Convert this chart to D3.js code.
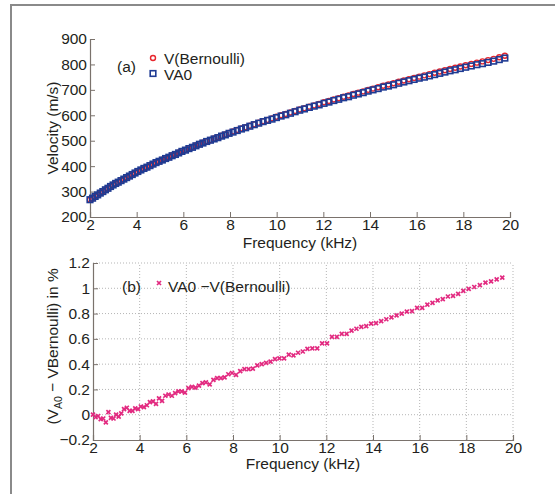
<!DOCTYPE html>
<html>
<head>
<meta charset="utf-8">
<script src="https://cdn.jsdelivr.net/npm/d3@7"></script>
<style>
  body { margin: 0; background: #fff; }
  svg { display: block; }
  text { font-family: "Liberation Sans", Arial, sans-serif; fill: #231f20; }
</style>
</head>
<body>
<div id="chart"></div>
<script>
// frequency of each measured point (kHz)
var freq = [2.00,2.11,2.22,2.33,2.44,2.55,2.66,2.77,2.88,2.99,3.10,3.21,3.33,3.45,3.57,3.69,3.81,3.93,
  4.05,4.18,4.31,4.44,4.57,4.70,4.83,4.96,5.10,5.24,5.38,5.52,5.66,5.80,5.94,
  6.09,6.24,6.39,6.54,6.69,6.84,7.00,7.16,7.32,7.48,7.64,7.80,7.96,
  8.13,8.31,8.49,8.67,8.85,9.04,9.23,9.42,9.61,9.80,9.99,
  10.19,10.39,10.59,10.79,10.99,11.19,11.40,11.61,11.82,
  12.03,12.24,12.45,12.66,12.87,13.08,13.29,13.50,13.71,13.92,
  14.13,14.35,14.57,14.79,15.01,15.23,15.45,15.67,15.89,
  16.11,16.33,16.55,16.77,16.99,17.21,17.43,17.65,17.87,
  18.10,18.34,18.58,18.82,19.06,19.30,19.54,19.78];

// V(Bernoulli) in m/s
var vBernoulli = [268,274,281,287,294,300,307,313,320,326,332,337,343,349,355,361,367,373,
  379,385,391,396,402,408,414,419,425,431,436,442,447,453,459,
  464,470,475,481,487,492,498,503,509,514,520,525,531,
  536,542,548,553,559,565,571,577,582,588,594,
  600,605,611,617,623,628,634,639,645,
  651,656,662,667,673,678,684,689,694,700,
  705,710,716,721,726,732,737,742,747,
  752,757,762,767,772,777,782,787,792,
  797,802,807,812,817,822,828,834];

// VA0 in m/s
var vA0 = [268,274,281,287,294,300,307,313,320,326,332,337,343,349,355,361,367,373,
  379,385,391,396,402,408,414,419,424,430,435,441,446,452,458,
  463,469,474,480,486,491,497,502,507,512,518,523,529,
  534,540,546,551,557,563,569,575,580,585,591,
  597,602,608,614,620,625,631,636,641,
  647,652,658,663,669,673,679,684,689,695,
  700,705,711,715,720,726,731,736,741,
  746,750,755,760,765,770,775,779,784,
  789,794,799,803,808,813,819,825];

// VA0 - V(Bernoulli) in % (last frequency has no point)
var diffPct = [0.00,-0.02,-0.01,-0.035,-0.03,-0.06,0.02,-0.025,-0.03,0.00,-0.015,0.01,0.045,0.055,0.03,0.03,0.05,0.045,
  0.065,0.06,0.075,0.10,0.105,0.085,0.13,0.11,0.15,0.16,0.15,0.17,0.185,0.185,0.175,
  0.21,0.22,0.215,0.23,0.25,0.255,0.24,0.275,0.29,0.29,0.295,0.32,0.33,
  0.315,0.345,0.36,0.36,0.365,0.39,0.40,0.41,0.42,0.44,0.445,
  0.445,0.475,0.47,0.49,0.50,0.52,0.525,0.525,0.565,
  0.565,0.615,0.615,0.64,0.64,0.665,0.68,0.695,0.70,0.72,
  0.725,0.74,0.755,0.77,0.785,0.80,0.815,0.82,0.845,
  0.845,0.87,0.885,0.905,0.915,0.935,0.94,0.955,0.98,
  0.995,1.01,1.025,1.045,1.055,1.07,1.085];

var freqTicks = [2,4,6,8,10,12,14,16,18,20];
var velTicks = [200,300,400,500,600,700,800,900];
var pctTicks = [-0.2,0,0.2,0.4,0.6,0.8,1,1.2];

var W = 555, H = 494;
var axisColor = "#7a726c";
var red = "#e8262d", blue = "#1f3b93", pink = "#e22a80";
var fontSize = "15.5px";

var svg = d3.select("#chart").append("svg").attr("width", W).attr("height", H);

// outer frame (runs off the right and bottom edges)
svg.append("rect").attr("x", 11).attr("y", 5).attr("width", 600).attr("height", 600)
  .attr("fill", "none").attr("stroke", "#8a8a8a").attr("stroke-width", 2);

// minus sign like matlab
function fmt(d) { return String(Math.round(d * 10) / 10).replace("-", "\u2212"); }

// draws the two axes of a panel, ticks pointing inwards
function drawAxes(g, x, y, xTicks, yTicks, yFmt) {
  var xa = g.append("g").attr("transform", "translate(0," + y.range()[0] + ")")
    .call(d3.axisBottom(x).tickValues(xTicks).tickSize(-5).tickPadding(2).tickFormat(d3.format("d")));
  var ya = g.append("g").attr("transform", "translate(" + x.range()[0] + ",0)")
    .call(d3.axisLeft(y).tickValues(yTicks).tickSize(-5).tickPadding(3).tickFormat(yFmt));
  [xa, ya].forEach(function(a) {
    a.select(".domain").attr("stroke", axisColor).attr("stroke-width", 1.2);
    a.selectAll(".tick line").attr("stroke", axisColor);
    a.selectAll("text").style("font-size", fontSize).attr("fill", "#231f20")
      .style("font-family", '"Liberation Sans", Arial, sans-serif');
  });
}

// ---------- panel (a) ----------
var xA = d3.scaleLinear().domain([2, 20]).range([90, 510]);
var yA = d3.scaleLinear().domain([200, 900]).range([217, 39]);
var gA = svg.append("g");
drawAxes(gA, xA, yA, freqTicks, velTicks, d3.format("d"));

gA.append("text").attr("transform", "translate(58," + (yA(550)) + ") rotate(-90)")
  .attr("text-anchor", "middle").style("font-size", fontSize).text("Velocity (m/s)");
gA.append("text").attr("x", xA(11)).attr("y", 248).attr("text-anchor", "middle")
  .style("font-size", fontSize).text("Frequency (kHz)");

gA.selectAll(".bern").data(freq).enter().append("circle")
  .attr("class", "bern")
  .attr("cx", function(d) { return xA(d); })
  .attr("cy", function(d, i) { return yA(vBernoulli[i]); })
  .attr("r", 2.5).attr("fill", "none").attr("stroke", red).attr("stroke-width", 1.4);

gA.selectAll(".va0").data(freq).enter().append("rect")
  .attr("class", "va0")
  .attr("x", function(d) { return xA(d) - 2.8; })
  .attr("y", function(d, i) { return yA(vA0[i]) - 2.8; })
  .attr("width", 5.6).attr("height", 5.6)
  .attr("fill", "none").attr("stroke", blue).attr("stroke-width", 1.6);

// legend (a)
gA.append("text").attr("x", 117).attr("y", 72).style("font-size", fontSize).text("(a)");
gA.append("circle").attr("cx", 153).attr("cy", 58).attr("r", 2.5)
  .attr("fill", "none").attr("stroke", red).attr("stroke-width", 1.4);
gA.append("text").attr("x", 164).attr("y", 64).style("font-size", fontSize).text("V(Bernoulli)");
gA.append("rect").attr("x", 150.2).attr("y", 70.7).attr("width", 5.6).attr("height", 5.6)
  .attr("fill", "none").attr("stroke", blue).attr("stroke-width", 1.6);
gA.append("text").attr("x", 164).attr("y", 80).style("font-size", fontSize).text("VA0");

// ---------- panel (b) ----------
var xB = d3.scaleLinear().domain([2, 20]).range([93, 513]);
var yB = d3.scaleLinear().domain([-0.2, 1.2]).range([440, 263]);
var gB = svg.append("g");

// dotted grid
gB.selectAll(".gx").data(freqTicks.slice(1)).enter().append("line")
  .attr("x1", function(d) { return xB(d); }).attr("x2", function(d) { return xB(d); })
  .attr("y1", yB(-0.2)).attr("y2", yB(1.2))
  .attr("stroke", "#b5b5b5").attr("stroke-dasharray", "1,2");
gB.selectAll(".gy").data(pctTicks.slice(1)).enter().append("line")
  .attr("x1", xB(2)).attr("x2", xB(20))
  .attr("y1", function(d) { return yB(d); }).attr("y2", function(d) { return yB(d); })
  .attr("stroke", "#b5b5b5").attr("stroke-dasharray", "1,2");

drawAxes(gB, xB, yB, freqTicks, pctTicks, fmt);

var yl = gB.append("text").attr("transform", "translate(58," + yB(0.54) + ") rotate(-90)")
  .attr("text-anchor", "middle").style("font-size", fontSize);
yl.append("tspan").text("(V");
yl.append("tspan").attr("dy", 4).style("font-size", "10.5px").text("A0");
yl.append("tspan").attr("dy", -4).text(" \u2212 VBernoulli) in %");
gB.append("text").attr("x", xB(11)).attr("y", 469).attr("text-anchor", "middle")
  .style("font-size", fontSize).text("Frequency (kHz)");

var cross = "M-2,-2L2,2M-2,2L2,-2";
gB.selectAll(".diff").data(diffPct).enter().append("path")
  .attr("class", "diff")
  .attr("transform", function(d, i) { return "translate(" + xB(freq[i]) + "," + yB(d) + ")"; })
  .attr("d", cross).attr("stroke", pink).attr("stroke-width", 1.7).attr("fill", "none");

// legend (b)
gB.append("text").attr("x", 122).attr("y", 292).style("font-size", fontSize).text("(b)");
gB.append("path").attr("transform", "translate(159,283)").attr("d", cross)
  .attr("stroke", pink).attr("stroke-width", 1.7);
gB.append("text").attr("x", 168).attr("y", 292).style("font-size", fontSize).text("VA0 \u2212V(Bernoulli)");
</script>
</body>
</html>
